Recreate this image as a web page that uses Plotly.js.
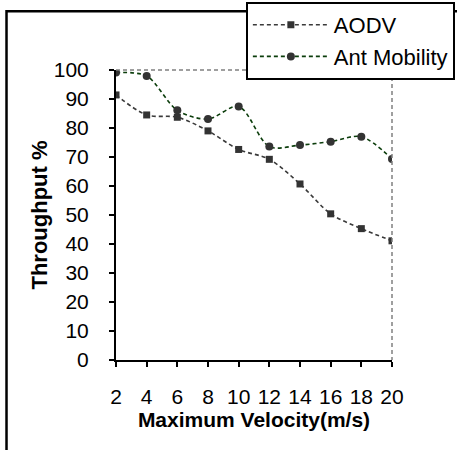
<!DOCTYPE html>
<html>
<head>
<meta charset="utf-8">
<script src="https://cdn.plot.ly/plotly-3.0.1.min.js"></script>
<style>
html,body{margin:0;padding:0;background:#fff;}
#chart{width:457px;height:450px;}
</style>
</head>
<body>
<div id="chart"></div>
<script>
const velocity = [2, 4, 6, 8, 10, 12, 14, 16, 18, 20];
const aodv = [91.4, 84.5, 83.7, 79.0, 72.6, 69.2, 60.7, 50.4, 45.3, 41.1];
const antMobility = [99.1, 97.9, 86.1, 83.1, 87.4, 73.6, 74.1, 75.3, 77.0, 69.3];
const yTicks = [0, 10, 20, 30, 40, 50, 60, 70, 80, 90, 100];
const xTicks = [2, 4, 6, 8, 10, 12, 14, 16, 18, 20];

const FONT = 'Arial, "Liberation Sans", sans-serif';

const traces = [
  {
    x: velocity, y: aodv, name: 'AODV', type: 'scatter', mode: 'lines+markers',
    line: {color: '#3a3a3a', width: 1.6, dash: '4px,3px', shape: 'spline', smoothing: 0.9},
    marker: {symbol: 'square', size: 7, color: '#333333'}
  },
  {
    x: velocity, y: antMobility, name: 'Ant Mobility', type: 'scatter', mode: 'lines+markers',
    line: {color: '#0b3d0b', width: 1.6, dash: '4px,3px', shape: 'spline', smoothing: 0.9},
    marker: {symbol: 'circle', size: 8, color: '#333333'}
  }
];

const layout = {
  width: 457, height: 450,
  margin: {l: 116, r: 65, t: 70, b: 90, autoexpand: false},
  paper_bgcolor: '#ffffff', plot_bgcolor: '#ffffff',
  font: {family: FONT, color: '#000000', size: 21},
  showlegend: true,
  legend: {
    xref: 'container', yref: 'container',
    x: 0.538, y: 0.9956, xanchor: 'left', yanchor: 'top',
    bgcolor: '#ffffff', bordercolor: '#000000', borderwidth: 2,
    font: {family: FONT, size: 22, color: '#000000'},
    itemwidth: 76, traceorder: 'normal'
  },
  xaxis: {
    range: [2, 20], tickvals: xTicks, ticktext: xTicks.map(String),
    showgrid: false, zeroline: false,
    showline: true, linecolor: '#000000', linewidth: 2,
    ticks: 'outside', ticklen: 5, tickwidth: 2, tickcolor: '#000000',
    ticklabelstandoff: 12,
    tickfont: {family: FONT, size: 21, color: '#000000'},
    title: {text: 'Maximum Velocity(m/s)', standoff: 4,
            font: {family: FONT, size: 21, color: '#000000', weight: 'bold'}},
    automargin: false, fixedrange: true
  },
  yaxis: {
    range: [0, 100], tickvals: yTicks, ticktext: yTicks.map(String),
    showgrid: false, zeroline: false,
    showline: true, linecolor: '#000000', linewidth: 2,
    ticks: 'outside', ticklen: 5, tickwidth: 2, tickcolor: '#000000',
    ticklabelstandoff: 16,
    tickfont: {family: FONT, size: 21, color: '#000000'},
    title: {text: 'Throughput %', standoff: 0,
            font: {family: FONT, size: 22, color: '#000000', weight: 'bold'}},
    automargin: false, fixedrange: true
  },
  shapes: [
    {type: 'rect', xref: 'paper', yref: 'paper',
     x0: -0.3967, x1: 1.3, y0: 1.2024, y1: -0.4,
     line: {color: '#000000', width: 2.5}, layer: 'below'},
    {type: 'line', xref: 'paper', yref: 'paper', x0: 0, x1: 1, y0: 1, y1: 1,
     line: {color: '#808080', width: 1.5, dash: '4px,3px'}},
    {type: 'line', xref: 'paper', yref: 'paper', x0: 1, x1: 1, y0: 1, y1: 0,
     line: {color: '#808080', width: 1.5, dash: '4px,3px'}}
  ]
};

Plotly.newPlot('chart', traces, layout, {displayModeBar: false, staticPlot: true});
</script>
</body>
</html>
